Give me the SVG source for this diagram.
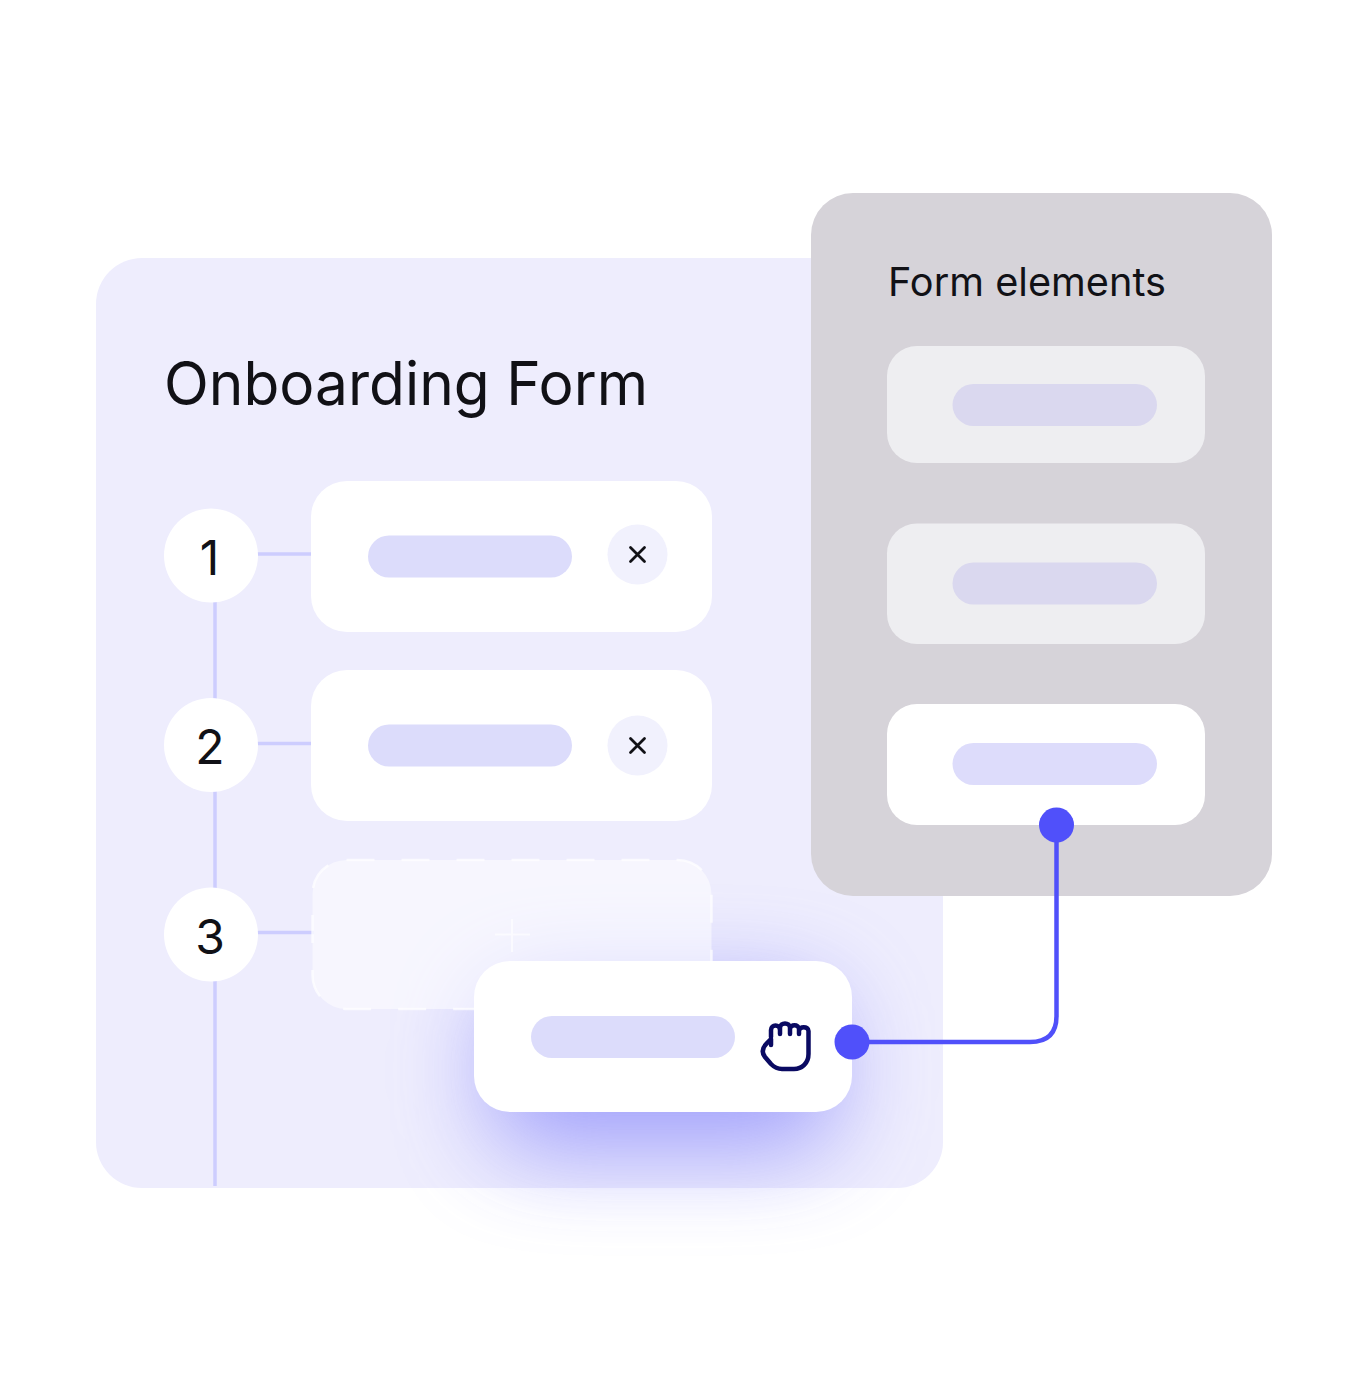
<svg xmlns="http://www.w3.org/2000/svg" width="1368" height="1379" viewBox="0 0 1368 1379">
<style>
.t{font-family:"Inter","Liberation Sans",sans-serif;fill:#111116}
.line{stroke:#cdcdfe;stroke-width:3.500;fill:none}
.pill{fill:#dcdcfb}
.x{stroke:#111116;stroke-width:2.800;stroke-linecap:round;fill:none}
</style>
<defs>
<filter id="shadow" x="-60%" y="-100%" width="220%" height="300%"><feGaussianBlur stdDeviation="48"/></filter>
</defs>
<rect width="1368" height="1379" fill="#fff"/>
<g id="form-panel">
<rect x="96" y="258" width="847" height="930" rx="46" fill="#eeedfd"/>
<text class="t" x="164" y="405" font-size="60" textLength="484" lengthAdjust="spacingAndGlyphs">Onboarding Form</text>
</g>
<g id="connectors-steps">
<path class="line" d="M215 600V1186"/>
<path class="line" d="M255 554H314M255 743.500H314M255 932.500H314"/>
</g>
<g id="step-1"><circle cx="211" cy="555.500" r="47" fill="#fff"/><text class="t" x="209.500" y="575" font-size="48" text-anchor="middle">1</text></g>
<g id="step-2"><circle cx="211" cy="745" r="47" fill="#fff"/><text class="t" x="210" y="764" font-size="48" text-anchor="middle">2</text></g>
<g id="step-3"><circle cx="211" cy="934.500" r="47" fill="#fff"/><text class="t" x="210" y="954" font-size="48" text-anchor="middle">3</text></g>
<g id="field-1">
<rect x="311" y="481" width="401" height="151" rx="36" fill="#fff"/>
<rect class="pill" x="368" y="535.500" width="204" height="42" rx="21"/>
<circle cx="637.500" cy="554.500" r="30" fill="#f1f1fd"/>
<path class="x" d="M630.500 547.500l14 14M644.500 547.500l-14 14"/>
</g>
<g id="field-2">
<rect x="311" y="670" width="401" height="151" rx="36" fill="#fff"/>
<rect class="pill" x="368" y="724.500" width="204" height="42" rx="21"/>
<circle cx="637.500" cy="745.500" r="30" fill="#f1f1fd"/>
<path class="x" d="M630.500 738.500l14 14M644.500 738.500l-14 14"/>
</g>
<g id="drag-shadow"><rect x="490" y="990" width="345" height="160" rx="40" fill="#6f6ffb" opacity=".62" filter="url(#shadow)"/></g>
<g id="drop-zone">
<rect x="312.500" y="860" width="399" height="149" rx="34" fill="#fff" fill-opacity=".5"/>
<rect x="312.500" y="860" width="399" height="149" rx="34" fill="none" stroke="#fff" stroke-opacity=".7" stroke-width="2.500" stroke-dasharray="28 27"/>
<path d="M512 919V952M495 934.500H530" stroke="#fff" stroke-opacity=".6" stroke-width="2" fill="none"/>
</g>
<g id="elements-panel">
<rect x="811" y="193" width="461" height="703" rx="42" fill="#d6d3d9"/>
<text class="t" x="888" y="296" font-size="39" textLength="278" lengthAdjust="spacingAndGlyphs">Form elements</text>
</g>
<g id="element-1"><rect x="887" y="346" width="318" height="117" rx="30" fill="#eeeef1"/><rect x="952.500" y="384" width="204.500" height="42" rx="21" fill="#dad8ef"/></g>
<g id="element-2"><rect x="887" y="523.500" width="318" height="120.500" rx="30" fill="#eeeef1"/><rect x="952.500" y="562.500" width="204.500" height="42" rx="21" fill="#dad8ef"/></g>
<g id="element-3"><rect x="887" y="704" width="318" height="121" rx="30" fill="#fff"/><rect x="952.500" y="743" width="204.500" height="42" rx="21" fill="#dddcfb"/></g>
<g id="dragged-card">
<rect x="474" y="961" width="378" height="151" rx="36" fill="#fff"/>
<rect class="pill" x="531" y="1016" width="204" height="42" rx="21"/>
<path d="M771 1037V1030C771 1024 780 1024 780 1030V1034M780 1030V1028C780 1022 790 1022 790 1028V1034M790 1029C790 1024 799 1024 799 1029V1034M799 1031C799 1026 808.500 1026 808.500 1031V1054C808.500 1063 802 1069 794 1069H782C777 1069 774 1067 771 1064L765 1057C761 1052 763 1047 767 1043L771 1039V1045" fill="none" stroke="#0a0a62" stroke-width="4.500" stroke-linecap="round" stroke-linejoin="round"/>
</g>
<g id="connectors">
<path d="M852 1042H1030Q1056.500 1042 1056.500 1016V825" fill="none" stroke="#5050fa" stroke-width="4.500"/>
<circle cx="852" cy="1042" r="17.500" fill="#5050fa"/>
<circle cx="1056.500" cy="825" r="17.500" fill="#5050fa"/>
</g>
</svg>
